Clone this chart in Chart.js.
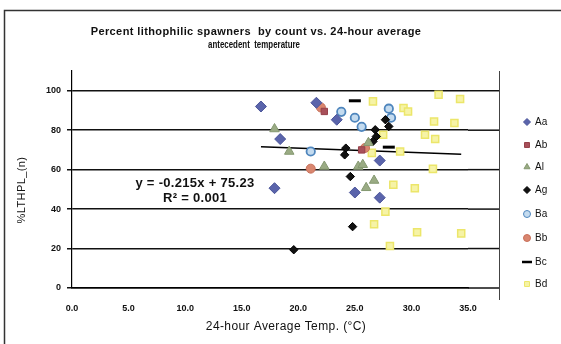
<!DOCTYPE html>
<html><head><meta charset="utf-8">
<script src="https://cdn.jsdelivr.net/npm/chart.js@4/dist/chart.umd.min.js"></script>
<style>html,body{margin:0;padding:0;background:#fff}canvas{display:block}</style>
</head><body>
<canvas id="c" width="561" height="344" style="width:561px;height:344px"></canvas>
<script>
// Percent lithophilic spawners vs. 24-hour antecedent temperature, by site
const aaTemp = [16.7, 18.4, 17.9, 21.6, 23.4, 27.2, 25.0, 27.2];
const aaPct  = [92.0, 75.5, 50.6, 93.9, 85.3, 64.6, 48.4, 45.8];
const abTemp = [22.3, 25.6];
const abPct  = [89.5, 70.0];
const alTemp = [17.9, 19.2, 22.3, 25.3, 25.7, 26.0, 26.7, 26.2];
const alPct  = [80.6, 69.2, 61.6, 61.6, 62.5, 50.8, 54.5, 73.6];
const agTemp = [19.6, 24.2, 24.1, 24.6, 24.8, 26.8, 26.9, 26.6, 27.7, 28.0];
const agPct  = [19.4, 70.9, 67.5, 56.5, 31.1, 80.2, 76.8, 74.3, 85.3, 81.9];
const baTemp = [21.1, 23.8, 25.0, 25.6, 28.0, 28.2];
const baPct  = [69.2, 89.3, 86.3, 81.7, 90.9, 86.3];
const bbTemp = [21.1, 22.0, 25.9];
const bbPct  = [60.5, 91.5, 71.0];
const bcTemp = [25.0, 28.0];
const bcPct  = [94.9, 71.4];
const bdTemp = [26.6, 32.4, 34.3, 29.3, 29.7, 32.0, 33.8, 31.2, 32.1, 29.0, 26.5, 31.9, 28.4, 30.3, 27.7, 26.7, 30.5, 34.4, 28.1, 27.5];
const bdPct  = [94.6, 98.0, 95.8, 91.2, 89.5, 84.4, 83.6, 77.7, 75.5, 69.2, 68.5, 60.4, 52.3, 50.6, 38.7, 32.3, 28.3, 27.7, 21.3, 77.7];

// Linear fit reported on the chart
const fitSlope = -0.215;
const fitIntercept = 75.23;
const fitR2 = 0.001;
const fitRange = [16.7, 34.4];

const xTicks = [0, 5, 10, 15, 20, 25, 30, 35];
const yTicks = [0, 20, 40, 60, 80, 100];

const pts = (xs, ys) => xs.map((x, i) => ({x: x, y: ys[i]}));
const FONT = '"Liberation Sans", Arial, sans-serif';

const series = [
  {label: 'Aa', data: pts(aaTemp, aaPct), pointStyle: 'rectRot', pointRadius: 5.5, backgroundColor: '#5a64ab', borderColor: '#4a5499', borderWidth: 1},
  {label: 'Ab', data: pts(abTemp, abPct), pointStyle: 'rect', pointRadius: 4.5, backgroundColor: '#a8505a', borderColor: '#96404a', borderWidth: 1},
  {label: 'Al', data: pts(alTemp, alPct), pointStyle: 'triangle', pointRadius: 5.5, backgroundColor: '#9aab84', borderColor: '#849870', borderWidth: 1},
  {label: 'Ag', data: pts(agTemp, agPct), pointStyle: 'rectRot', pointRadius: 4.2, backgroundColor: '#111111', borderColor: '#000000', borderWidth: 1},
  {label: 'Ba', data: pts(baTemp, baPct), pointStyle: 'circle', pointRadius: 4.2, backgroundColor: '#c4dbef', borderColor: '#4f86bd', borderWidth: 1.8},
  {label: 'Bb', data: pts(bbTemp, bbPct), pointStyle: 'circle', pointRadius: 4.5, backgroundColor: '#d9866f', borderColor: '#c8705a', borderWidth: 1},
  {label: 'Bc', data: pts(bcTemp, bcPct), pointStyle: 'line', pointRadius: 6, backgroundColor: '#000000', borderColor: '#000000', borderWidth: 3},
  {label: 'Bd', data: pts(bdTemp, bdPct), pointStyle: 'rect', pointRadius: 5, backgroundColor: '#f6f3a6', borderColor: '#ece66a', borderWidth: 1.5}
];

const datasets = series.map(s => Object.assign({showLine: false, pointHoverRadius: s.pointRadius, order: 1}, s));
datasets.push({
  label: 'fit',
  data: fitRange.map(x => ({x: x, y: fitSlope * x + fitIntercept})),
  showLine: true, borderColor: '#000000', borderWidth: 1.6, pointRadius: 0, order: 2
});

const decor = {
  id: 'decor',
  afterDraw(chart) {
    const ctx = chart.ctx;
    const xs = chart.scales.x, ys = chart.scales.y;
    ctx.save();
    // outer frame
    ctx.strokeStyle = '#333';
    ctx.lineWidth = 1.5;
    ctx.beginPath();
    ctx.moveTo(4.5, 344); ctx.lineTo(4.5, 10.5); ctx.lineTo(561, 10.5);
    ctx.stroke();
    // gridlines continue to the rule that separates the legend
    ctx.strokeStyle = '#111';
    ctx.lineWidth = 1.5;
    yTicks.forEach(v => {
      const y = ys.getPixelForValue(v);
      ctx.beginPath(); ctx.moveTo(xs.right, y); ctx.lineTo(500, y); ctx.stroke();
    });
    ctx.lineWidth = 1;
    ctx.strokeStyle = '#444';
    ctx.beginPath(); ctx.moveTo(499.5, ys.top); ctx.lineTo(499.5, 300); ctx.stroke();

    ctx.fillStyle = '#111';
    ctx.textAlign = 'center';
    ctx.textBaseline = 'middle';
    // title
    ctx.font = 'bold 11px ' + FONT;
    ctx.letterSpacing = '0.4px';
    ctx.fillText('Percent lithophilic spawners  by count vs. 24-hour average', 256, 32);
    ctx.letterSpacing = '0px';
    ctx.fillText('antecedent  temperature', 254, 45, 92);
    // fit equation
    ctx.font = 'bold 13px ' + FONT;
    ctx.letterSpacing = '0.3px';
    ctx.fillText('y = ' + fitSlope.toFixed(3) + 'x + ' + fitIntercept.toFixed(2), 195, 183);
    ctx.fillText('R\u00b2 = ' + fitR2.toFixed(3), 195, 198);
    // axis titles
    ctx.font = '12px ' + FONT;
    ctx.letterSpacing = '0.4px';
    ctx.fillText('24-hour Average Temp. (\u00b0C)', 286, 327);
    ctx.save();
    ctx.translate(22, 190);
    ctx.rotate(-Math.PI / 2);
    ctx.font = '11px ' + FONT;
    ctx.fillText('%LTHPL_(n)', 0, 0);
    ctx.restore();
    ctx.letterSpacing = '0px';
    // legend
    const legY = [122, 145, 167, 190, 214, 238, 262, 284];
    ctx.textAlign = 'left';
    ctx.font = '10px ' + FONT;
    series.forEach((s, i) => {
      const y = legY[i];
      ctx.fillStyle = s.backgroundColor;
      ctx.strokeStyle = s.borderColor;
      ctx.lineWidth = s.pointStyle === 'line' ? 2.5 : 1;
      Chart.helpers.drawPoint(ctx, {pointStyle: s.pointStyle, radius: s.pointStyle === 'line' ? 5 : 3.5, borderWidth: ctx.lineWidth, rotation: 0}, 527, y);
      ctx.fillStyle = '#111';
      ctx.fillText(s.label, 535, y);
    });
    ctx.restore();
  }
};

new Chart(document.getElementById('c'), {
  type: 'scatter',
  data: {datasets: datasets},
  plugins: [decor],
  options: {
    responsive: false,
    animation: false,
    layout: {padding: {top: 71, right: 93, left: 0, bottom: 0}},
    plugins: {legend: {display: false}, title: {display: false}, tooltip: {enabled: false}},
    scales: {
      x: {
        type: 'linear', min: 0, max: 35,
        afterBuildTicks: s => { s.ticks = xTicks.map(v => ({value: v})); },
        afterFit: s => { s.height = 56; },
        grid: {display: false, drawTicks: false},
        border: {display: true, color: '#000', width: 1.5},
        ticks: {padding: 15, color: '#111', font: {family: FONT, size: 9, weight: 'bold'}, callback: v => v.toFixed(1)}
      },
      y: {
        type: 'linear', min: 0, max: 110,
        afterBuildTicks: s => { s.ticks = yTicks.map(v => ({value: v})); },
        afterFit: s => { s.width = 72; },
        grid: {color: '#111', lineWidth: 1.5, tickLength: 5},
        border: {display: true, color: '#000', width: 1.2},
        ticks: {padding: 6, color: '#111', font: {family: FONT, size: 9, weight: 'bold'}}
      }
    }
  }
});
</script>
</body></html>
